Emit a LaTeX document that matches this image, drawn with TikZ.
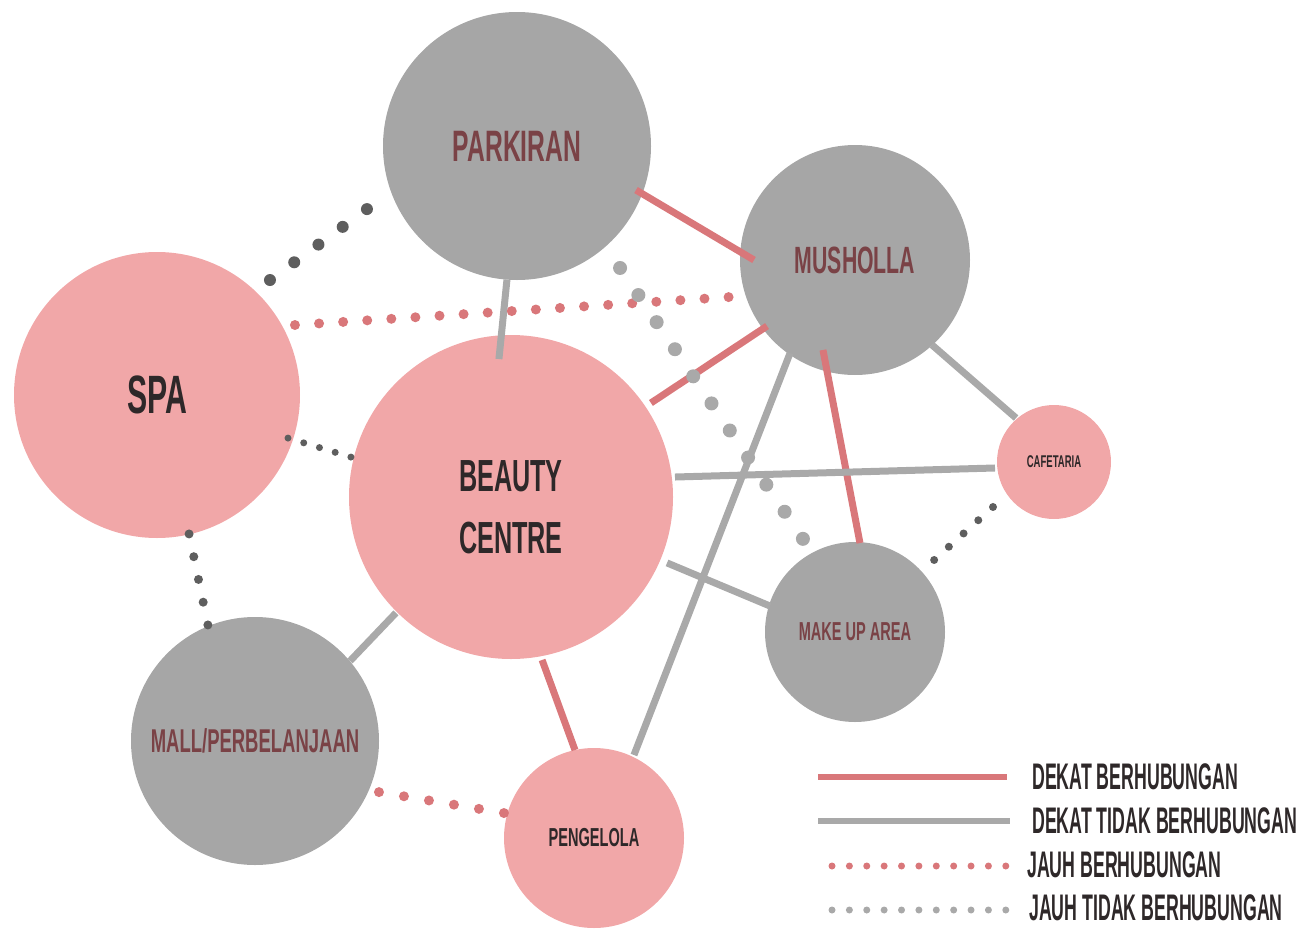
\documentclass[tikz,border=0pt]{standalone}
\usepackage{fontspec}
\newfontfamily\bebas{Liberation Sans}[FakeStretch=0.56]
\newfontfamily\bebasleg{Liberation Sans}[FakeStretch=0.48]
\definecolor{pinkfill}{HTML}{F1A7A8}
\definecolor{grayfill}{HTML}{A6A6A6}
\definecolor{redln}{HTML}{D9777A}
\definecolor{grayln}{HTML}{A9A9A9}
\definecolor{darkdot}{HTML}{5E5E5E}
\definecolor{darktext}{HTML}{2E2829}
\definecolor{browntext}{HTML}{7A4246}
\tikzset{
  pinknode/.style={circle, fill=pinkfill, inner sep=0pt, text=darktext, align=center},
  graynode/.style={circle, fill=grayfill, inner sep=0pt, text=browntext, align=center},
  fs/.style={font=\bebas\bfseries\fontsize{#1}{#1}\selectfont},
  redsolid/.style={draw=redln, line width=7pt},
  graysolid/.style={draw=grayln, line width=7pt},
  dots/.style n args={3}{draw=#1, line width=#2, dash pattern=on 0pt off #3, line cap=round},
  legendtext/.style={anchor=west, inner sep=0pt, text=darktext, font=\bebasleg\bfseries\fontsize{37}{37}\selectfont}
}
\begin{document}
\begin{tikzpicture}[x=1pt, y=-1pt]
\useasboundingbox (0,0) rectangle (1310,929);
% circles
\node[graynode, minimum size=268pt, fs=44] (parkiran) at (517,146) {PARKIRAN};
\node[graynode, minimum size=230pt, fs=38] (musholla) at (855,260) {MUSHOLLA};
\node[pinknode, minimum size=286pt, fs=54] (spa) at (157,395) {SPA};
\node[pinknode, minimum size=324pt, text height=112pt, text depth=0pt, font=\bebas\bfseries\fontsize{45}{62}\selectfont] (beauty) at (511,497) {BEAUTY\\CENTRE};
\node[pinknode, minimum size=114pt, fs=17] (cafe) at (1054,462) {CAFETARIA};
\node[graynode, minimum size=180pt, fs=26] (makeup) at (855,632) {MAKE UP AREA};
\node[graynode, minimum size=248pt, fs=33] (mall) at (255,741) {MALL/PERBELANJAAN};
\node[pinknode, minimum size=180pt, fs=26] (pengelola) at (594,838) {PENGELOLA};
% solid connectors
\draw[graysolid] ([shift={(-94.3:134pt)}]parkiran.center) -- ([shift={(95:138.5pt)}]beauty.center);
\draw[redsolid] ([shift={(-20.3:126.9pt)}]parkiran.center) -- ([shift={(180:101pt)}]musholla.center);
\draw[redsolid] ([shift={(-143.1:110pt)}]musholla.center) -- ([shift={(33.9:168.6pt)}]beauty.center);
\draw[graysolid] ([shift={(-47.8:114.7pt)}]musholla.center) -- ([shift={(130.8:58.1pt)}]cafe.center);
\draw[redsolid] ([shift={(-109.6:95.5pt)}]musholla.center) -- ([shift={(86.8:89.1pt)}]makeup.center);
\draw[graysolid] ([shift={(-124.9:113.5pt)}]musholla.center) -- ([shift={(64.3:92.1pt)}]pengelola.center);
\draw[graysolid] ([shift={(6.95:165.2pt)}]beauty.center) -- ([shift={(185.8:59.3pt)}]cafe.center);
\draw[graysolid] ([shift={(-22.9:169.4pt)}]beauty.center) -- ([shift={(163:88.9pt)}]makeup.center);
\draw[graysolid] ([shift={(-134.8:163.3pt)}]beauty.center) -- ([shift={(40.1:124.2pt)}]mall.center);
\draw[redsolid] ([shift={(-79.2:165.9pt)}]beauty.center) -- ([shift={(102.2:90pt)}]pengelola.center);
% dotted connectors
\draw[dots={redln}{10pt}{24.14pt}] ([shift={(26.9:154.7pt)}]spa.center) -- ([shift={(196.4:131.3pt)}]musholla.center);
\draw[dots={darkdot}{12pt}{30.03pt}] ([shift={(45.5:161.2pt)}]spa.center) -- ([shift={(202.8:162.7pt)}]parkiran.center);
\draw[dots={darkdot}{7pt}{16.43pt}] ([shift={(-18.2:137.9pt)}]spa.center) -- ([shift={(166:164.9pt)}]beauty.center);
\draw[dots={darkdot}{9pt}{23.23pt}] ([shift={(-77:142.6pt)}]spa.center) -- ([shift={(112.1:125.2pt)}]mall.center);
\draw[dots={redln}{10pt}{25.34pt}] ([shift={(-22.4:134.1pt)}]mall.center) -- ([shift={(164.5:93.4pt)}]pengelola.center);
\draw[dots={darkdot}{8pt}{19.8pt}] ([shift={(-143.6:75.8pt)}]cafe.center) -- ([shift={(42.3:106.9pt)}]makeup.center);
\draw[dots={grayln}{14pt}{32.68pt}] ([shift={(-49.8:159.7pt)}]parkiran.center) -- ([shift={(119.2:106.6pt)}]makeup.center);
% legend
\coordinate (l1a) at (818,777); \coordinate (l1b) at (1007,777);
\coordinate (l2a) at (818,821); \coordinate (l2b) at (1010,821);
\coordinate (l3a) at (832,866); \coordinate (l3b) at (1006,866);
\coordinate (l4a) at (832,910); \coordinate (l4b) at (1006,910);
\draw[draw=redln, line width=6pt] (l1a) -- (l1b);
\draw[draw=grayln, line width=6pt] (l2a) -- (l2b);
\draw[dots={redln}{7pt}{17.38pt}] (l3a) -- (l3b);
\draw[dots={grayln}{7pt}{17.38pt}] (l4a) -- (l4b);
\node[legendtext] (t1) at (1032,777) {DEKAT BERHUBUNGAN};
\node[legendtext] (t2) at (1032,821) {DEKAT TIDAK BERHUBUNGAN};
\node[legendtext] (t3) at (1027,865) {JAUH BERHUBUNGAN};
\node[legendtext] (t4) at (1029,908) {JAUH TIDAK BERHUBUNGAN};
\end{tikzpicture}
\end{document}
